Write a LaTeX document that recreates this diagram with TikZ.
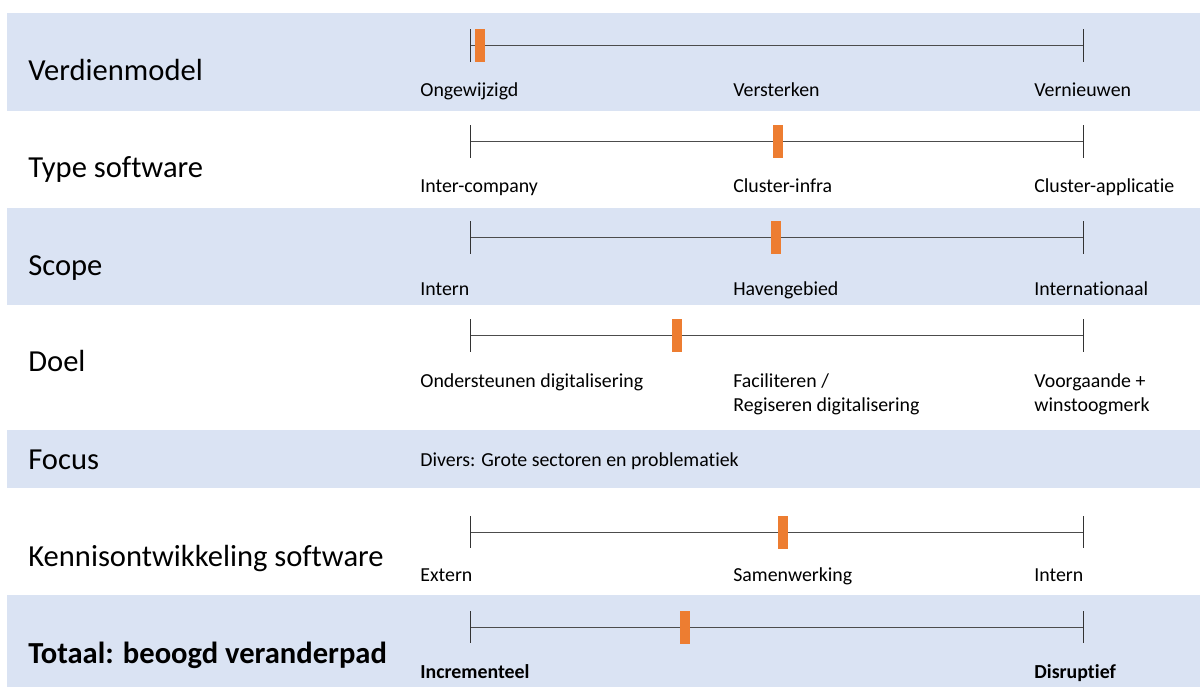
\documentclass[tikz,border=0pt]{standalone}
\usepackage{fontspec}
\setmainfont{Carlito}[Ligatures=NoCommon]
\definecolor{bandblue}{HTML}{DAE3F3}
\definecolor{markorange}{HTML}{ED7D31}

\begin{document}
\begin{tikzpicture}[x=0.02cm,y=-0.02cm,
	band/.style={fill=bandblue,draw=none},
	rowtitle/.style={anchor=base west,inner sep=0,font=\fontsize{17.4}{20}\selectfont},
	endlabel/.style={anchor=base west,inner sep=0,align=left,font=\fontsize{11.3}{13.6}\selectfont},
	axisline/.style={draw=black!70,line width=0.5pt},
	endtick/.style={draw=black!80,line width=0.4pt},
	marker/.style={fill=markorange,draw=none,inner sep=0,minimum width=0.2cm,minimum height=0.66cm}]
	\useasboundingbox (0,0) rectangle (1200,687);

	% banden
	\fill[band] (7,13) rectangle (1200,111);
	\fill[band] (7,208) rectangle (1200,305);
	\fill[band] (7,430) rectangle (1200,488);
	\fill[band] (7,595) rectangle (1200,687);

	% Verdienmodel
	\node[rowtitle] (t1) at (28,80) {Verdienmodel};
	\draw[axisline] (470,45) -- (1083,45);
	\draw[endtick] (470,29) -- (470,62);
	\draw[endtick] (1083,29) -- (1083,62);
	\node[marker] (m1) at (480,45) {};
	\node[endlabel] (l1a) at (420,96) {Ongewijzigd};
	\node[endlabel] (l1b) at (733,96) {Versterken};
	\node[endlabel] (l1c) at (1034,96) {Vernieuwen};

	% Type software
	\node[rowtitle] (t2) at (28,177) {Type software};
	\draw[axisline] (470,141) -- (1083,141);
	\draw[endtick] (470,125) -- (470,158);
	\draw[endtick] (1083,125) -- (1083,158);
	\node[marker] (m2) at (778,141) {};
	\node[endlabel] (l2a) at (420,192) {Inter-company};
	\node[endlabel] (l2b) at (733,192) {Cluster-infra};
	\node[endlabel] (l2c) at (1034,192) {Cluster-applicatie};

	% Scope
	\node[rowtitle] (t3) at (28,275) {Scope};
	\draw[axisline] (470,237) -- (1083,237);
	\draw[endtick] (470,221) -- (470,254);
	\draw[endtick] (1083,221) -- (1083,254);
	\node[marker] (m3) at (776,237) {};
	\node[endlabel] (l3a) at (420,295) {Intern};
	\node[endlabel] (l3b) at (733,295) {Havengebied};
	\node[endlabel] (l3c) at (1034,295) {Internationaal};

	% Doel
	\node[rowtitle] (t4) at (28,371) {Doel};
	\draw[axisline] (470,335) -- (1083,335);
	\draw[endtick] (470,319) -- (470,352);
	\draw[endtick] (1083,319) -- (1083,352);
	\node[marker] (m4) at (677,335) {};
	\node[endlabel] (l4a) at (420,387) {Ondersteunen digitalisering};
	\node[endlabel] (l4b) at (733,411) {Faciliteren /\\Regiseren digitalisering};
	\node[endlabel] (l4c) at (1034,411) {Voorgaande +\\winstoogmerk};

	% Focus
	\node[rowtitle] (t5) at (28,469) {Focus};
	\node[endlabel] (l5a) at (420,466) {Divers: Grote sectoren en problematiek};

	% Kennisontwikkeling software
	\node[rowtitle] (t6) at (28,566) {Kennisontwikkeling software};
	\draw[axisline] (470,532) -- (1083,532);
	\draw[endtick] (470,516) -- (470,548);
	\draw[endtick] (1083,516) -- (1083,548);
	\node[marker] (m6) at (783,532) {};
	\node[endlabel] (l6a) at (420,581) {Extern};
	\node[endlabel] (l6b) at (733,581) {Samenwerking};
	\node[endlabel] (l6c) at (1034,581) {Intern};

	% Totaal
	\node[rowtitle,font=\fontsize{17.4}{20}\selectfont\bfseries] (t7) at (28,663) {Totaal: beoogd veranderpad};
	\draw[axisline] (470,627) -- (1083,627);
	\draw[endtick] (470,611) -- (470,643);
	\draw[endtick] (1083,611) -- (1083,643);
	\node[marker] (m7) at (685,627) {};
	\node[endlabel,font=\fontsize{11.3}{13.6}\selectfont\bfseries] (l7a) at (420,678) {Incrementeel};
	\node[endlabel,font=\fontsize{11.3}{13.6}\selectfont\bfseries] (l7c) at (1034,678) {Disruptief};
\end{tikzpicture}
\end{document}
